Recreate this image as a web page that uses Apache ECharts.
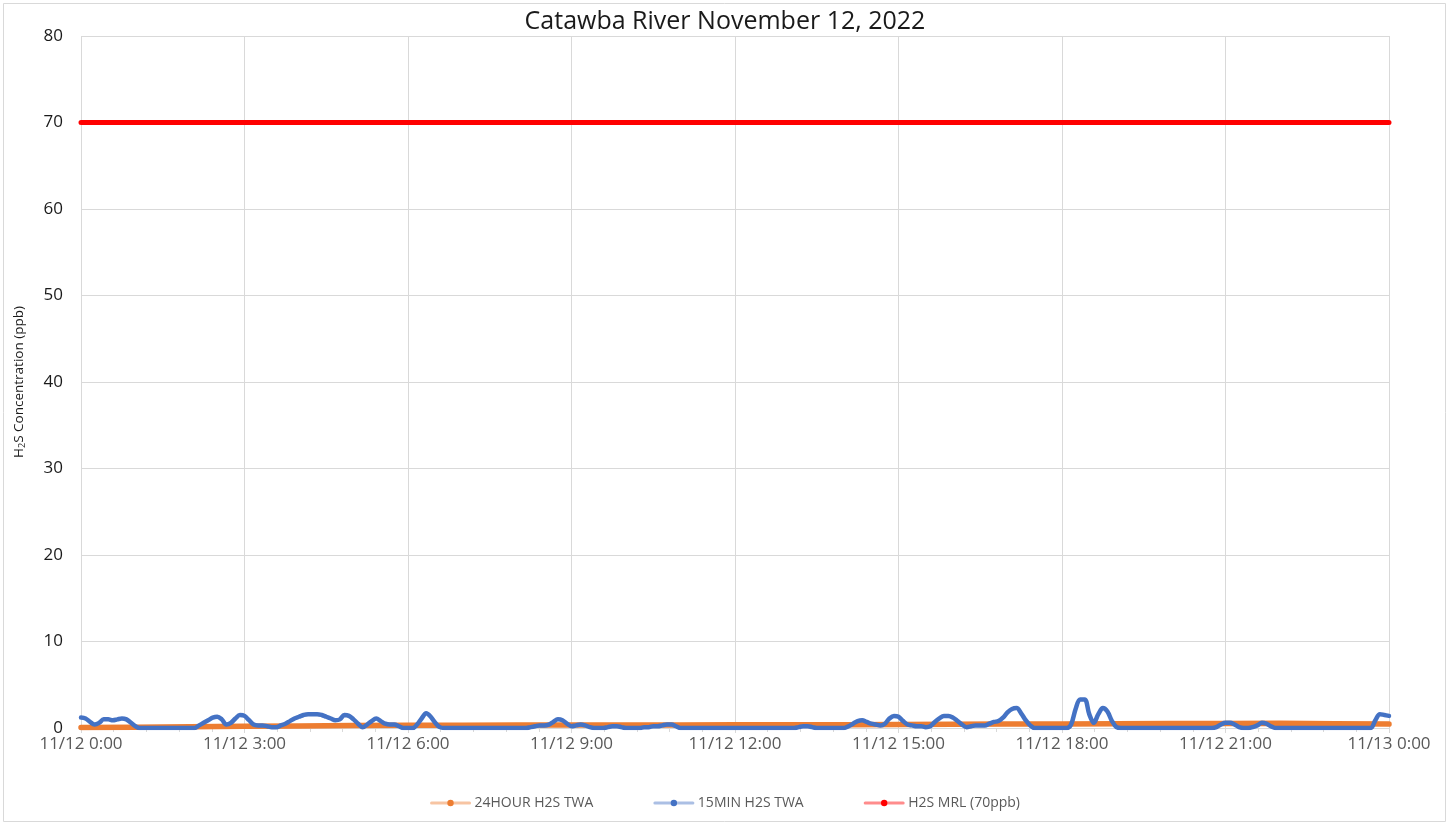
<!DOCTYPE html>
<html>
<head>
<meta charset="utf-8">
<title>Catawba River November 12, 2022</title>
<script src="https://cdn.jsdelivr.net/npm/echarts@6/dist/echarts.min.js"></script>
<style>
  html, body { margin: 0; padding: 0; background: #ffffff; }
  #chart { width: 1450px; height: 825px; }
</style>
</head>
<body>
<div id="chart"></div>
<script>
// Time axis: minutes since 11/12 0:00, major ticks every 3 hours
const xTickLabels = ['11/12 0:00', '11/12 3:00', '11/12 6:00', '11/12 9:00', '11/12 12:00',
  '11/12 15:00', '11/12 18:00', '11/12 21:00', '11/13 0:00'];
const yTickLabels = ['0', '10', '20', '30', '40', '50', '60', '70', '80'];

// 15MIN H2S TWA (ppb), one reading every 5 minutes, rows = hours 0..23 plus the final reading
const stepMinutes = 5;
const twa15Min = [
  1.2, 1.1, 0.7, 0.4, 0.6, 1.0, 1.0, 0.9, 1.0, 1.1, 1.0, 0.6,
  0.2, 0, 0, 0, 0, 0, 0, 0, 0, 0, 0, 0,
  0, 0, 0.3, 0.6, 0.9, 1.2, 1.3, 1.0, 0.4, 0.6, 1.1, 1.5,
  1.4, 0.9, 0.4, 0.3, 0.3, 0.2, 0.1, 0.1, 0.3, 0.5, 0.8, 1.1,
  1.3, 1.5, 1.6, 1.6, 1.6, 1.5, 1.3, 1.1, 0.9, 1.0, 1.5, 1.4,
  1.0, 0.5, 0.1, 0.4, 0.8, 1.1, 0.8, 0.5, 0.4, 0.4, 0.2, 0,
  0, 0, 0.4, 1.1, 1.7, 1.3, 0.6, 0.1, 0, 0, 0, 0,
  0, 0, 0, 0, 0, 0, 0, 0, 0, 0, 0, 0,
  0, 0, 0, 0.1, 0.2, 0.3, 0.3, 0.4, 0.7, 1.0, 0.9, 0.5,
  0.2, 0.3, 0.4, 0.3, 0.1, 0, 0, 0, 0.1, 0.2, 0.2, 0.1,
  0, 0, 0, 0, 0.1, 0.1, 0.2, 0.2, 0.3, 0.4, 0.4, 0.2,
  0, 0, 0, 0, 0, 0, 0, 0, 0, 0, 0, 0,
  0, 0, 0, 0, 0, 0, 0, 0, 0, 0, 0, 0,
  0, 0, 0.1, 0.2, 0.2, 0.1, 0, 0, 0, 0, 0, 0,
  0, 0.2, 0.5, 0.8, 0.9, 0.7, 0.5, 0.4, 0.3, 0.5, 1.1, 1.4,
  1.3, 0.8, 0.4, 0.3, 0.2, 0.2, 0.1, 0.2, 0.7, 1.1, 1.4, 1.4,
  1.2, 0.8, 0.4, 0.1, 0.2, 0.3, 0.3, 0.3, 0.5, 0.7, 0.8, 1.2,
  1.8, 2.2, 2.3, 1.7, 0.9, 0.3, 0, 0, 0, 0, 0, 0,
  0, 0, 0.4, 2.2, 3.3, 3.3, 1.6, 0.6, 1.6, 2.3, 1.9, 0.8,
  0.1, 0, 0, 0, 0, 0, 0, 0, 0, 0, 0, 0,
  0, 0, 0, 0, 0, 0, 0, 0, 0, 0, 0.1, 0.4,
  0.6, 0.6, 0.4, 0.1, 0, 0, 0.1, 0.3, 0.6, 0.5, 0.2, 0,
  0, 0, 0, 0, 0, 0, 0, 0, 0, 0, 0, 0,
  0, 0, 0, 0, 0, 0, 0, 0, 0, 0.9, 1.6, 1.5,
  1.4
];

// 24HOUR H2S TWA (ppb), hourly readings 0:00 .. 24:00
const twa24Hour = [
  0.05, 0.1, 0.15, 0.2, 0.24, 0.28, 0.31, 0.33, 0.34, 0.35, 0.36, 0.36,
  0.37, 0.38, 0.39, 0.41, 0.43, 0.45, 0.47, 0.49, 0.51, 0.53, 0.55, 0.5,
  0.45
];

// H2S minimal risk level (ppb)
const mrlLevel = 70;

const seriesNames = ['24HOUR H2S TWA', '15MIN H2S TWA', 'H2S MRL (70ppb)'];
const seriesColors = ['#ed7d31', '#4472c4', '#ff0000'];

const data15 = twa15Min.map((v, i) => [i * stepMinutes, v]);
const data24 = twa24Hour.map((v, i) => [i * 60, v]);
const dataMrl = twa15Min.map((v, i) => [i * stepMinutes, mrlLevel]);

const font = 'Open Sans';
const chart = echarts.init(document.getElementById('chart'), null, { renderer: 'canvas' });

chart.setOption({
  animation: false,
  backgroundColor: '#ffffff',
  textStyle: { fontFamily: font },
  graphic: [{
    type: 'rect',
    shape: { x: 3.5, y: 3.5, width: 1442, height: 818 },
    style: { fill: 'none', stroke: '#d9d9d9', lineWidth: 1 },
    silent: true
  }],
  title: {
    text: 'Catawba River November 12, 2022',
    left: 'center',
    top: 4,
    textStyle: { fontFamily: font, fontSize: 25, fontWeight: 'normal', color: '#1a1a1a' }
  },
  legend: {
    bottom: 10,
    left: 'center',
    itemWidth: 38,
    itemHeight: 8,
    itemGap: 60,
    textStyle: { fontFamily: font, fontSize: 14, color: '#595959' },
    lineStyle: { width: 3, opacity: 0.45 },
    data: seriesNames
  },
  grid: { left: 81, right: 61, top: 36, bottom: 97 },
  xAxis: {
    type: 'value',
    min: 0,
    max: 1440,
    interval: 180,
    axisLine: { show: true, lineStyle: { color: '#d9d9d9', width: 1 } },
    axisTick: { show: true, length: 5, lineStyle: { color: '#d9d9d9' } },
    minorTick: { show: true, splitNumber: 5, length: 4, lineStyle: { color: '#d9d9d9' } },
    splitLine: { show: true, lineStyle: { color: '#d9d9d9', width: 1 } },
    axisLabel: {
      margin: 8,
      fontFamily: font,
      fontSize: 17,
      color: '#595959',
      formatter: v => xTickLabels[Math.round(v / 180)]
    }
  },
  yAxis: {
    type: 'value',
    min: 0,
    max: 80,
    interval: 10,
    name: '{t|H}{s|2}{t|S Concentration (ppb)}',
    nameLocation: 'middle',
    nameRotate: 90,
    nameGap: 54,
    nameTextStyle: {
      rich: {
        t: { fontFamily: font, fontSize: 13.5, color: '#1a1a1a' },
        s: { fontFamily: font, fontSize: 9, color: '#1a1a1a', verticalAlign: 'bottom', padding: [6, 0, 0, 0] }
      }
    },
    axisLine: { show: false },
    axisTick: { show: false },
    splitLine: { show: true, lineStyle: { color: '#d9d9d9', width: 1 } },
    axisLabel: {
      margin: 18,
      fontFamily: font,
      fontSize: 17,
      color: '#1a1a1a',
      formatter: v => yTickLabels[Math.round(v / 10)]
    }
  },
  series: [
    {
      name: seriesNames[0],
      type: 'line',
      data: data24,
      color: seriesColors[0],
      symbol: 'circle',
      symbolSize: 7,
      showSymbol: false,
      lineStyle: { width: 5.5, cap: 'round' },
      z: 2
    },
    {
      name: seriesNames[1],
      type: 'line',
      data: data15,
      color: seriesColors[1],
      symbol: 'circle',
      symbolSize: 7,
      showSymbol: false,
      smooth: 0.35,
      lineStyle: { width: 4.5, cap: 'round', join: 'round' },
      z: 3
    },
    {
      name: seriesNames[2],
      type: 'line',
      data: dataMrl,
      color: seriesColors[2],
      symbol: 'circle',
      symbolSize: 7,
      showSymbol: false,
      lineStyle: { width: 5, cap: 'round' },
      z: 4
    }
  ]
});
</script>
</body>
</html>
